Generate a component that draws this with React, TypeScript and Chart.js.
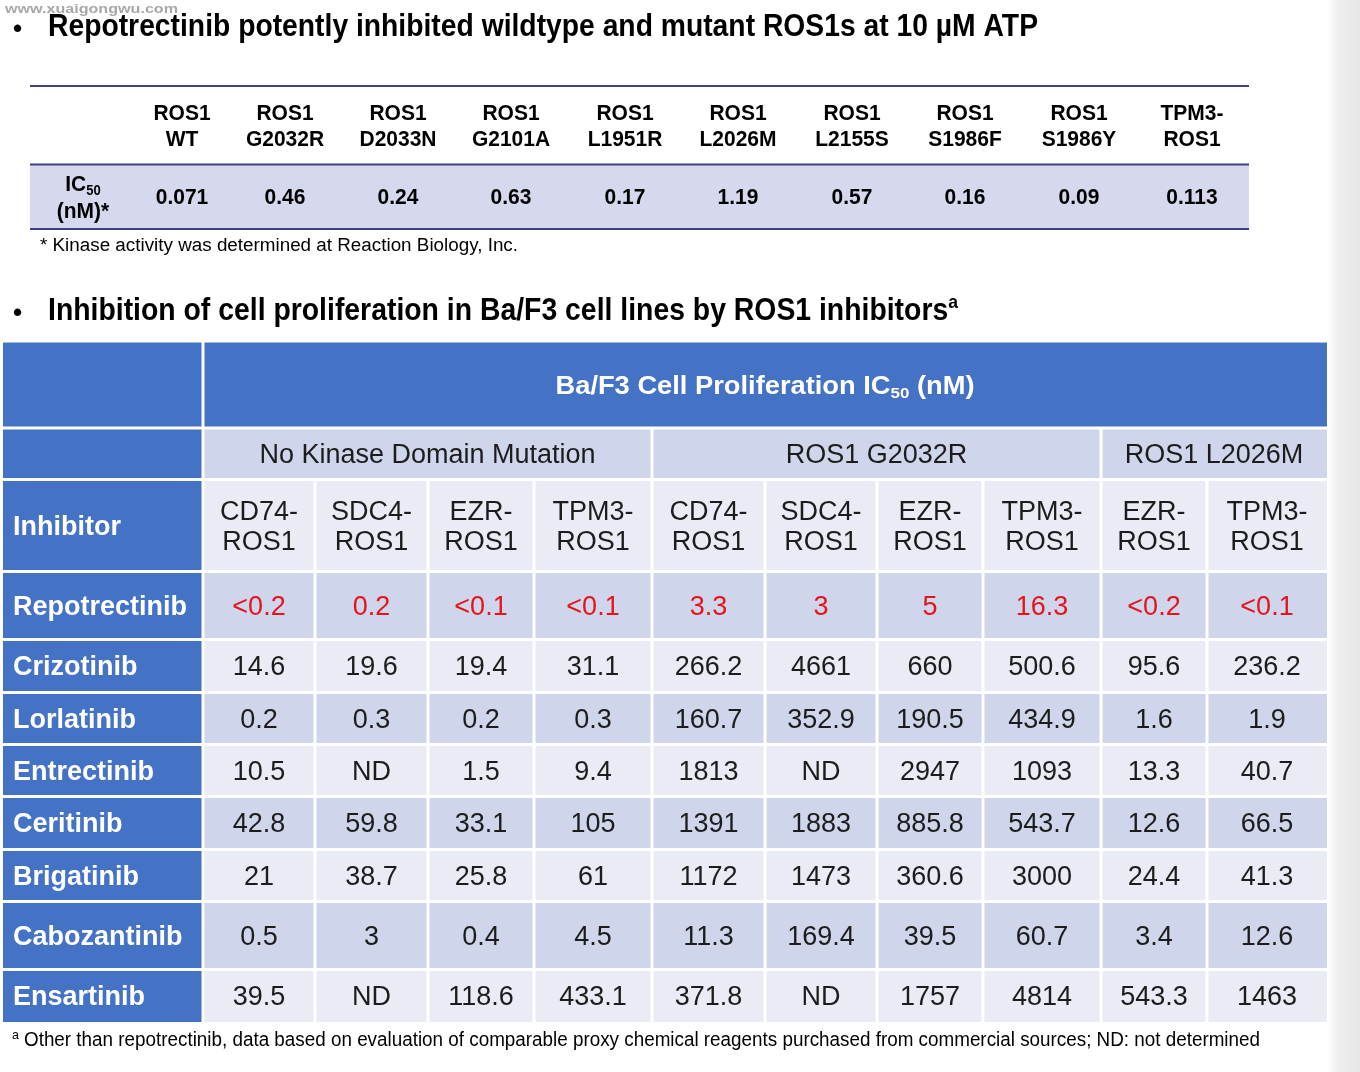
import React, { useEffect, useRef } from "react";
import { Chart, registerables } from "chart.js";

Chart.register(...registerables);

// ---------- DATA ----------
const watermark = "www.xuaigongwu.com";
const title1 = "Repotrectinib potently inhibited wildtype and mutant ROS1s at 10 \u00b5M ATP";
const title2 = "Inhibition of cell proliferation in Ba/F3 cell lines by ROS1 inhibitors";
const footTop = "* Kinase activity was determined at Reaction Biology, Inc.";
const footBottom = "Other than repotrectinib, data based on evaluation of comparable proxy chemical reagents purchased from commercial sources; ND: not determined";

const kinaseLine1 = ["ROS1", "ROS1", "ROS1", "ROS1", "ROS1", "ROS1", "ROS1", "ROS1", "ROS1", "TPM3-"];
const kinaseLine2 = ["WT", "G2032R", "D2033N", "G2101A", "L1951R", "L2026M", "L2155S", "S1986F", "S1986Y", "ROS1"];
const kinaseIC50 = ["0.071", "0.46", "0.24", "0.63", "0.17", "1.19", "0.57", "0.16", "0.09", "0.113"];

const tableTitle = "Ba/F3 Cell Proliferation IC";
const groupNames = ["No Kinase Domain Mutation", "ROS1 G2032R", "ROS1 L2026M"];
const groupSpans = [4, 4, 2];
const fusionLine1 = ["CD74-", "SDC4-", "EZR-", "TPM3-", "CD74-", "SDC4-", "EZR-", "TPM3-", "EZR-", "TPM3-"];
const fusionLine2 = ["ROS1", "ROS1", "ROS1", "ROS1", "ROS1", "ROS1", "ROS1", "ROS1", "ROS1", "ROS1"];

const inhibitors = ["Repotrectinib", "Crizotinib", "Lorlatinib", "Entrectinib", "Ceritinib", "Brigatinib", "Cabozantinib", "Ensartinib"];
const repotrectinib = ["<0.2", "0.2", "<0.1", "<0.1", "3.3", "3", "5", "16.3", "<0.2", "<0.1"];
const crizotinib = ["14.6", "19.6", "19.4", "31.1", "266.2", "4661", "660", "500.6", "95.6", "236.2"];
const lorlatinib = ["0.2", "0.3", "0.2", "0.3", "160.7", "352.9", "190.5", "434.9", "1.6", "1.9"];
const entrectinib = ["10.5", "ND", "1.5", "9.4", "1813", "ND", "2947", "1093", "13.3", "40.7"];
const ceritinib = ["42.8", "59.8", "33.1", "105", "1391", "1883", "885.8", "543.7", "12.6", "66.5"];
const brigatinib = ["21", "38.7", "25.8", "61", "1172", "1473", "360.6", "3000", "24.4", "41.3"];
const cabozantinib = ["0.5", "3", "0.4", "4.5", "11.3", "169.4", "39.5", "60.7", "3.4", "12.6"];
const ensartinib = ["39.5", "ND", "118.6", "433.1", "371.8", "ND", "1757", "4814", "543.3", "1463"];
const tableValues = [repotrectinib, crizotinib, lorlatinib, entrectinib, ceritinib, brigatinib, cabozantinib, ensartinib];

// ---------- LAYOUT (scale units) ----------
const W = 1360;
const H = 1072;
const topLabelX = 83;
const topColX = [182, 285, 398, 511, 625, 738, 852, 965, 1079, 1192];
const colEdges = [3, 203, 315, 428, 534, 652, 765, 877, 983, 1101, 1207, 1327];
const rowEdges = [342.5, 428, 479.5, 571.5, 639.5, 692.5, 744.5, 796.5, 849.5, 901.5, 969.5, 1022];

const FONT = '"Liberation Sans", Arial, Helvetica, sans-serif';
const BLUE = "#4472c4";
const DARK = "#cfd5ea";
const LIGHT = "#e9ebf5";
const INK = "#1c1c1c";
const RED = "#e5141c";

type Part = { t: string; sub?: boolean; sup?: boolean };

function drawRich(
  ctx: CanvasRenderingContext2D,
  parts: Part[],
  x: number,
  y: number,
  o: { size: number; bold?: boolean; color: string; align?: "left" | "center"; fit?: number; sy?: number }
) {
  const fontFor = (p: Part) => {
    const s = p.sub || p.sup ? o.size * 0.62 : o.size;
    return `${o.bold ? "bold " : ""}${s}px ${FONT}`;
  };
  let total = 0;
  const widths = parts.map((p) => {
    ctx.font = fontFor(p);
    const w = ctx.measureText(p.t).width;
    total += w;
    return w;
  });
  const sx = o.fit ? o.fit / total : 1;
  const start = o.align === "center" ? x - (total * sx) / 2 : x;
  ctx.save();
  ctx.translate(start, y + o.size * 0.07);
  ctx.scale(sx, o.sy || 1);
  ctx.fillStyle = o.color;
  ctx.textBaseline = "middle";
  ctx.textAlign = "left";
  let cx = 0;
  parts.forEach((p, i) => {
    ctx.font = fontFor(p);
    const dy = p.sub ? o.size * 0.28 : p.sup ? -o.size * 0.3 : 0;
    ctx.fillText(p.t, cx, dy);
    cx += widths[i];
  });
  ctx.restore();
}

const tablePlugin = {
  id: "tablePlugin",
  afterDraw(chart: any) {
    const ctx: CanvasRenderingContext2D = chart.ctx;
    const xs = chart.scales.x;
    const ys = chart.scales.y;
    const px = (v: number) => xs.getPixelForValue(v);
    const py = (v: number) => ys.getPixelForValue(v);

    ctx.save();
    // page background
    ctx.fillStyle = "#ffffff";
    ctx.fillRect(px(0), py(0), px(W) - px(0), py(H) - py(0));
    const g = ctx.createLinearGradient(px(1328), 0, px(W), 0);
    g.addColorStop(0, "rgba(232,232,232,0)");
    g.addColorStop(0.4, "rgba(236,236,236,1)");
    g.addColorStop(1, "rgba(230,230,230,1)");
    ctx.fillStyle = g;
    ctx.fillRect(px(1328), py(0), px(W) - px(1328), py(H) - py(0));

    // watermark
    drawRich(ctx, [{ t: watermark }], px(5), py(9), { size: 13, bold: true, color: "#a8a8a8", fit: 173 });

    // title 1
    drawRich(ctx, [{ t: "\u2022" }], px(13), py(28), { size: 26, bold: true, color: "#000" });
    drawRich(ctx, [{ t: title1 }], px(48), py(25.5), { size: 29, bold: true, color: "#000", fit: 990, sy: 1.05 });

    // top table
    ctx.fillStyle = "#d6d8ee";
    ctx.fillRect(px(30), py(165), px(1249) - px(30), py(229) - py(165));
    ctx.strokeStyle = "#3f4280";
    ctx.lineWidth = 2;
    [86, 164.5, 229].forEach((yy) => {
      ctx.beginPath();
      ctx.moveTo(px(30), py(yy));
      ctx.lineTo(px(1249), py(yy));
      ctx.stroke();
    });
    const tb = { size: 21, bold: true, color: "#000", align: "center" as const, sy: 1.08 };
    kinaseLine1.forEach((t, i) => {
      drawRich(ctx, [{ t }], px(topColX[i]), py(112), tb);
      drawRich(ctx, [{ t: kinaseLine2[i] }], px(topColX[i]), py(138), tb);
      drawRich(ctx, [{ t: kinaseIC50[i] }], px(topColX[i]), py(196), tb);
    });
    drawRich(ctx, [{ t: "IC" }, { t: "50", sub: true }], px(topLabelX), py(183), tb);
    drawRich(ctx, [{ t: "(nM)*" }], px(topLabelX), py(210), tb);
    drawRich(ctx, [{ t: footTop }], px(40), py(245), { size: 18, color: "#000", fit: 478 });

    // title 2
    drawRich(ctx, [{ t: "\u2022" }], px(13), py(312), { size: 26, bold: true, color: "#000" });
    drawRich(ctx, [{ t: title2 }, { t: "a", sup: true }], px(48), py(309.5), { size: 29, bold: true, color: "#000", fit: 910, sy: 1.05 });

    // second table background (white grid)
    ctx.fillStyle = "#ffffff";
    ctx.fillRect(px(colEdges[0]), py(rowEdges[0]), px(colEdges[11]) - px(colEdges[0]), py(rowEdges[11]) - py(rowEdges[0]));
    const inset = 1.5;
    const cell = (c0: number, c1: number, r: number, color: string) => {
      const x0 = px(colEdges[c0]) + (c0 === 0 ? 0 : inset);
      const x1 = px(colEdges[c1]) - (c1 === 11 ? 0 : inset);
      const y0 = py(rowEdges[r]) + (r === 0 ? 0 : inset);
      const y1 = py(rowEdges[r + 1]) - (r === 10 ? 0 : inset);
      ctx.fillStyle = color;
      ctx.fillRect(x0, y0, x1 - x0, y1 - y0);
    };
    const cx = (c0: number, c1: number) => px((colEdges[c0] + colEdges[c1]) / 2);
    const cy = (r: number) => py((rowEdges[r] + rowEdges[r + 1]) / 2);

    // row 0: blue header
    cell(0, 1, 0, BLUE);
    cell(1, 11, 0, BLUE);
    drawRich(ctx, [{ t: tableTitle }, { t: "50", sub: true }, { t: " (nM)" }], cx(1, 11), cy(0), {
      size: 25,
      bold: true,
      color: "#ffffff",
      align: "center",
      fit: 419,
    });
    // row 1: groups
    cell(0, 1, 1, BLUE);
    let c = 1;
    groupNames.forEach((name, i) => {
      const c1 = c + groupSpans[i];
      cell(c, c1, 1, DARK);
      drawRich(ctx, [{ t: name }], cx(c, c1), cy(1), { size: 27, color: INK, align: "center" });
      c = c1;
    });
    // row 2: fusion headers
    cell(0, 1, 2, BLUE);
    drawRich(ctx, [{ t: "Inhibitor" }], px(13), cy(2), { size: 27, bold: true, color: "#ffffff" });
    fusionLine1.forEach((t, i) => {
      cell(i + 1, i + 2, 2, LIGHT);
      drawRich(ctx, [{ t }], cx(i + 1, i + 2), cy(2) - 15, { size: 27, color: INK, align: "center" });
      drawRich(ctx, [{ t: fusionLine2[i] }], cx(i + 1, i + 2), cy(2) + 15.5, { size: 27, color: INK, align: "center" });
    });
    // data rows
    inhibitors.forEach((name, ri) => {
      const r = ri + 3;
      const bg = ri % 2 === 0 ? DARK : LIGHT;
      cell(0, 1, r, BLUE);
      drawRich(ctx, [{ t: name }], px(13), cy(r), { size: 27, bold: true, color: "#ffffff" });
      tableValues[ri].forEach((v, ci) => {
        cell(ci + 1, ci + 2, r, bg);
        drawRich(ctx, [{ t: v }], cx(ci + 1, ci + 2), cy(r), {
          size: 27,
          color: ri === 0 ? RED : INK,
          align: "center",
        });
      });
    });

    // bottom footnote
    drawRich(ctx, [{ t: "a", sup: true }], px(12), py(1040), { size: 20, color: "#000" });
    drawRich(ctx, [{ t: footBottom }], px(24), py(1039.5), { size: 20, color: "#000", fit: 1236 });
    ctx.restore();
  },
};

export default function App() {
  const ref = useRef<HTMLCanvasElement | null>(null);
  useEffect(() => {
    if (!ref.current) return;
    const chart = new Chart(ref.current, {
      type: "scatter",
      data: { datasets: [{ data: [], pointRadius: 0 }] },
      options: {
        responsive: false,
        animation: false,
        devicePixelRatio: 1,
        layout: { padding: 0 },
        events: [],
        plugins: { legend: { display: false }, tooltip: { enabled: false }, title: { display: false } },
        scales: {
          x: { type: "linear", min: 0, max: W, display: false },
          y: { type: "linear", min: 0, max: H, reverse: true, display: false },
        },
      },
      plugins: [tablePlugin],
    } as any);
    return () => chart.destroy();
  }, []);
  return (
    <div style={{ position: "absolute", left: 0, top: 0, width: W, height: H, background: "#fff" }}>
      <canvas ref={ref} width={W} height={H} style={{ display: "block", width: W, height: H }} />
    </div>
  );
}
